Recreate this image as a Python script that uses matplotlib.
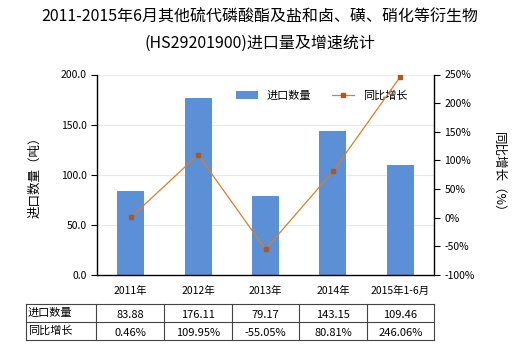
import matplotlib.pyplot as plt
import numpy as np

plt.rcParams['font.family'] = ['Noto Sans CJK SC', 'DejaVu Sans']
plt.rcParams['font.size'] = 7.5

years = ['2011年', '2012年', '2013年', '2014年', '2015年1-6月']
qty = [83.88, 176.11, 79.17, 143.15, 109.46]
growth = [0.46, 109.95, -55.05, 80.81, 246.06]

W, H = 520, 350
fig = plt.figure(figsize=(W / 100, H / 100), dpi=100)

# axes in pixel coordinates
x0, x1, y0, y1 = 97, 434, 74.5, 275
ax = fig.add_axes([x0 / W, 1 - y1 / H, (x1 - x0) / W, (y1 - y0) / H])
x = np.arange(len(years))
ax.bar(x, qty, width=0.4, color='#5b8fd6', label='进口数量', zorder=2)
ax.set_xlim(-0.5, len(years) - 0.5)
ax.set_ylim(0, 200)
ax.set_yticks(np.arange(0, 201, 50))
ax.set_yticklabels([f'{v:.1f}' for v in np.arange(0, 201, 50)])
ax.set_xticks(x)
ax.set_xticklabels(years)
ax.tick_params(axis='x', length=0, pad=8)
ax.tick_params(axis='y', length=4, width=0.8)
for v in [50, 100, 150, 200]:
    ax.axhline(v, color='#ece9da', lw=0.8, zorder=0)
for s in ['top', 'right']:
    ax.spines[s].set_visible(False)
ax.spines['left'].set_linewidth(1)
ax.spines['bottom'].set_linewidth(1)
ax.set_ylabel('进口数量（吨）', fontsize=9, labelpad=14)

ax2 = ax.twinx()
ax2.plot(x, growth, color='#e07b28', lw=0.9, marker='s', markersize=3.5,
         markerfacecolor='#b5541c', markeredgecolor='#b5541c', label='同比增长', zorder=3)
ax2.set_ylim(-100, 250)
ax2.set_yticks(np.arange(-100, 251, 50))
ax2.set_yticklabels([f'{v}%' for v in np.arange(-100, 251, 50)])
ax2.tick_params(axis='y', length=4, width=0.8)
for s in ['top', 'left', 'bottom']:
    ax2.spines[s].set_visible(False)
ax2.spines['right'].set_linewidth(1)
ax2.set_ylabel('同比增长（%）', fontsize=9, rotation=270, labelpad=22)

h1, l1 = ax.get_legend_handles_labels()
h2, l2 = ax2.get_legend_handles_labels()
ax.legend(h1 + h2, l1 + l2, loc='upper right', bbox_to_anchor=(0.95, 0.97),
          ncol=2, frameon=False, fontsize=8, handlelength=2.0, columnspacing=1.8)

fig.text(0.5, 1 - 17 / H, '2011-2015年6月其他硫代磷酸酯及盐和卤、磺、硝化等衍生物',
         ha='center', va='center', fontsize=11.5)
fig.text(0.5, 1 - 43 / H, '(HS29201900)进口量及增速统计',
         ha='center', va='center', fontsize=11.5)

# data table below the chart
col_edges = [26, 96] + [x0 + (x1 - x0) * (i + 1) / len(years) for i in range(len(years))]
row_edges = [304, 322, 340]
lc = '#444444'
for ye in row_edges:
    fig.add_artist(plt.Line2D([col_edges[0] / W, col_edges[-1] / W], [1 - ye / H] * 2,
                              color=lc, lw=0.8))
for xe in col_edges:
    fig.add_artist(plt.Line2D([xe / W] * 2, [1 - row_edges[0] / H, 1 - row_edges[-1] / H],
                              color=lc, lw=0.8))
rows = [('进口数量', [f'{v:.2f}' for v in qty]),
        ('同比增长', [f'{v:.2f}%' for v in growth])]
for r, (name, vals) in enumerate(rows):
    yc = 1 - (row_edges[r] + row_edges[r + 1]) / 2 / H
    fig.text((col_edges[0] + 2) / W, yc, name, ha='left', va='center', fontsize=8)
    for i, v in enumerate(vals):
        xc = (col_edges[i + 1] + col_edges[i + 2]) / 2 / W
        fig.text(xc, yc - 0.005, v, ha='center', va='center', fontsize=8)

fig.savefig('out.png', dpi=100)
